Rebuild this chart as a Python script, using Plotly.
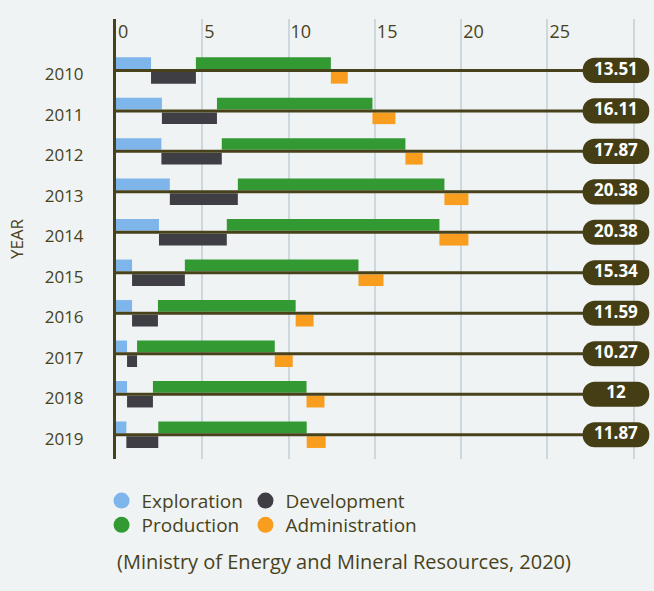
import numpy as np
import plotly.graph_objects as go

years = ["2010", "2011", "2012", "2013", "2014", "2015", "2016", "2017", "2018", "2019"]
exploration = [2.03, 2.66, 2.63, 3.12, 2.49, 0.93, 0.93, 0.64, 0.64, 0.60]
development = [2.60, 3.19, 3.50, 3.94, 3.93, 3.06, 1.50, 0.58, 1.50, 1.85]
production = [7.82, 9.01, 10.64, 11.97, 12.32, 10.06, 7.98, 7.98, 8.90, 8.60]
administration = [0.98, 1.33, 1.00, 1.39, 1.68, 1.45, 1.04, 1.04, 1.04, 1.10]
totals = [13.51, 16.11, 17.87, 20.38, 20.38, 15.34, 11.59, 10.27, 12, 11.87]
x_ticks = [0, 5, 10, 15, 20, 25, 30]
x_ticktext = ["0", "5", "10", "15", "20", "25", ""]
source_text = "(Ministry of Energy and Mineral Resources, 2020)"

BG = "#eff3f4"
OLIVE = "#48421b"
PILL = "#453e15"
GRID = "#cdd7de"
FONT = "Open Sans"
COLORS = {"Exploration": "#7eb6ec", "Development": "#3f3e45",
          "Production": "#339933", "Administration": "#f99d1f"}

series = [("Exploration", exploration), ("Development", development),
          ("Production", production), ("Administration", administration)]

bar_w = 0.29
half_line = 0.037
upper_off = -half_line - bar_w
lower_off = half_line

fig = go.Figure()
base = np.zeros(len(years))
for i, (name, vals) in enumerate(series):
    vals = np.array(vals)
    fig.add_trace(go.Bar(
        y=years, x=vals, base=base, orientation="h",
        width=bar_w, offset=upper_off if i % 2 == 0 else lower_off,
        marker=dict(color=COLORS[name], line=dict(width=0)),
        showlegend=False, hoverinfo="skip", name=name))
    base = base + vals

# pill position (axis units)
pill_start = 27.04
pill_len = 3.86

# horizontal row lines (end where the pill begins)
lx, ly = [], []
for y in years:
    lx += [0, pill_start + 0.05, None]
    ly += [y, y, None]
fig.add_trace(go.Scatter(x=lx, y=ly, mode="lines",
                         line=dict(color=OLIVE, width=3),
                         showlegend=False, hoverinfo="skip"))

# total pills
fig.add_trace(go.Bar(
    y=years, x=[pill_len] * len(years), base=[pill_start] * len(years),
    orientation="h", width=0.62, offset=-0.31,
    marker=dict(color=PILL, cornerradius="50%", line=dict(width=0)),
    showlegend=False, hoverinfo="skip"))
fig.add_trace(go.Scatter(
    y=years, x=[pill_start + pill_len / 2] * len(years), mode="text",
    text=[f"{t:g}" for t in totals], textposition="middle center",
    textfont=dict(color="white", size=17, family=FONT, weight="bold"),
    showlegend=False, hoverinfo="skip", cliponaxis=False))

# legend entries: one legend per entry for exact placement
legend_pos = [(-0.027, -0.0948), (0.242, -0.0948),
              (-0.027, -0.15), (0.242, -0.15)]
legend_names = ["legend", "legend2", "legend3", "legend4"]
for i, (name, _) in enumerate(series):
    fig.add_trace(go.Scatter(
        x=[None], y=[None], mode="markers", name=name,
        marker=dict(color=COLORS[name], size=16, symbol="circle"),
        legend=legend_names[i]))

legends = {}
for key, (lxp, lyp) in zip(legend_names, legend_pos):
    legends[key] = dict(orientation="h", xanchor="left", yanchor="middle",
                        x=lxp, y=lyp, bgcolor="rgba(0,0,0,0)",
                        font=dict(family=FONT, size=19, color=OLIVE),
                        itemclick=False, itemdoubleclick=False)

fig.update_layout(
    width=654, height=591,
    margin=dict(l=116, r=3, t=19, b=132),
    paper_bgcolor=BG, plot_bgcolor=BG,
    barmode="overlay",
    font=dict(family=FONT, color=OLIVE),
    xaxis=dict(side="top", range=[0, 31.0],
               tickvals=x_ticks, ticktext=x_ticktext,
               ticklabelposition="inside right", ticklabelshift=2,
               tickfont=dict(size=18, color=OLIVE, family=FONT),
               showgrid=True, gridcolor=GRID, gridwidth=1.5,
               zeroline=False, showline=False, ticks=""),
    yaxis=dict(type="category", range=[9.6, -1.27],
               showgrid=False, zeroline=False,
               showline=True, linecolor=OLIVE, linewidth=3,
               ticks="", ticklabelstandoff=26, ticklabelshift=-4,
               tickfont=dict(size=17, color=OLIVE, family=FONT),
               title=dict(text="YEAR", standoff=17,
                          font=dict(size=17, color=OLIVE, family=FONT))),
    annotations=[dict(text=source_text, xref="paper", yref="paper",
                      x=-0.002, y=-0.234, xanchor="left", yanchor="middle",
                      showarrow=False,
                      font=dict(size=20, color=OLIVE, family=FONT))],
    **legends,
)

fig.write_html("out.html", config={"displayModeBar": False},
               post_script="document.body.style.margin='0';")
